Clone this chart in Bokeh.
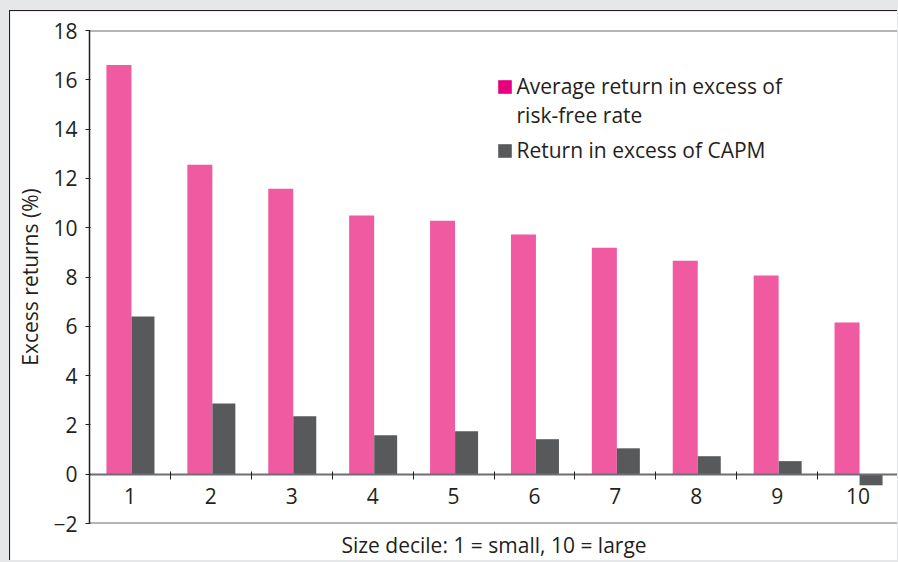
from bokeh.plotting import figure
from bokeh.models import (ColumnDataSource, FixedTicker, LinearAxis, Legend, LegendItem, Span)
from bokeh.transform import dodge
from bokeh.embed import file_html
from bokeh.resources import INLINE

# ---- data ----
deciles = [1, 2, 3, 4, 5, 6, 7, 8, 9, 10]
decile_labels = ["1", "2", "3", "4", "5", "6", "7", "8", "9", "10"]
avg_excess_rf = [16.6, 12.55, 11.58, 10.49, 10.28, 9.72, 9.19, 8.66, 8.06, 6.15]
excess_capm = [6.4, 2.87, 2.35, 1.58, 1.74, 1.42, 1.05, 0.73, 0.53, -0.45]
y_ticks = [-2, 0, 2, 4, 6, 8, 10, 12, 14, 16, 18]
y_min, y_max = -2, 18

FONT = "Open Sans"
FS = "21px"
TXT = "#231f20"
PINK = "#ef5aa0"
GREY = "#58595b"
PINK_LEG = "#e6007e"
FRAME = "#6d6e71"
NAN = float("nan")

src = ColumnDataSource(dict(decile=deciles, rf=avg_excess_rf, capm=excess_capm))

p = figure(width=888, height=550, x_range=(0.5, 10.5), y_range=(y_min, y_max),
           output_backend="svg", toolbar_location=None,
           min_border_left=79, min_border_right=0, min_border_top=19, min_border_bottom=37,
           border_fill_color="white", background_fill_color="white",
           outline_line_color=None,
           styles={"margin-left": "8.5px", "margin-top": "10px",
                   "border-left": "1.5px solid #231f20", "border-top": "1.5px solid #231f20"})
p.grid.visible = False

p.add_layout(Span(location=y_max, dimension="width", line_color=FRAME, line_width=2))
p.add_layout(Span(location=y_min, dimension="width", line_color=FRAME, line_width=2))

p.vbar(x=dodge("decile", -0.136, range=p.x_range), top="rf", bottom=0, width=0.309,
       source=src, fill_color=PINK, line_color=None)
p.vbar(x=dodge("decile", 0.161, range=p.x_range), top="capm", bottom=0, width=0.284,
       source=src, fill_color=GREY, line_color=None)

# legend swatch renderers (legend swatch colour differs from bars); no visible data
leg1 = p.vbar(x=[NAN], top=[NAN], width=0.3, fill_color=PINK_LEG, line_color=None)
leg1b = p.vbar(x=[NAN], top=[NAN], width=0.3, fill_alpha=0, line_color=None)
leg2 = p.vbar(x=[NAN], top=[NAN], width=0.3, fill_color=GREY, line_color=None)

# y axis
ya = p.yaxis[0]
ya.ticker = FixedTicker(ticks=y_ticks)
ya.major_label_overrides = {-2: "\u22122"}
ya.axis_label = "Excess returns (%)"
ya.axis_label_text_font = FONT
ya.axis_label_text_font_size = FS
ya.axis_label_text_font_style = "normal"
ya.axis_label_text_color = TXT
ya.axis_label_standoff = 6
ya.major_label_text_font = FONT
ya.major_label_text_font_size = FS
ya.major_label_text_color = TXT
ya.major_label_standoff = 8
ya.major_tick_out = 4
ya.major_tick_in = 1
ya.major_tick_line_color = TXT
ya.minor_tick_line_color = None
ya.axis_line_color = TXT
ya.axis_line_width = 1.5

# x axis at zero
xa = p.xaxis[0]
xa.fixed_location = 0
xa.ticker = FixedTicker(ticks=deciles, minor_ticks=[d + 0.5 for d in deciles])
xa.major_label_overrides = {d: s for d, s in zip(deciles, decile_labels)}
xa.major_tick_line_color = None
xa.major_tick_out = 0
xa.major_tick_in = 0
xa.minor_tick_line_color = TXT
xa.minor_tick_in = 3
xa.minor_tick_out = 5
xa.axis_line_color = FRAME
xa.axis_line_width = 2
xa.major_label_text_font = FONT
xa.major_label_text_font_size = FS
xa.major_label_text_color = TXT
xa.major_label_standoff = 9

# x axis title carrier (no ticks, no line) below the frame
xl = LinearAxis(ticker=FixedTicker(ticks=[]), axis_line_color=None,
                major_tick_line_color=None, minor_tick_line_color=None,
                major_tick_out=0, major_tick_in=0, minor_tick_out=0)
xl.axis_label = "Size decile: 1 = small, 10 = large"
xl.axis_label_text_font = FONT
xl.axis_label_text_font_size = FS
xl.axis_label_text_font_style = "normal"
xl.axis_label_text_color = TXT
xl.axis_label_standoff = 7
p.add_layout(xl, "below")

leg_style = dict(orientation="vertical", glyph_width=17, glyph_height=17, label_standoff=4,
                 padding=0, margin=0, border_line_color=None, background_fill_alpha=0,
                 label_text_font=FONT, label_text_font_size=FS, label_text_color=TXT)
legend_a = Legend(items=[
    LegendItem(label="Average return in excess of", renderers=[leg1]),
    LegendItem(label="risk-free rate", renderers=[leg1b]),
], location=(407, 394), spacing=1, **leg_style)
legend_b = Legend(items=[
    LegendItem(label="Return in excess of CAPM", renderers=[leg2]),
], location=(407, 359), spacing=0, **leg_style)
p.add_layout(legend_a, "center")
p.add_layout(legend_b, "center")

html = file_html(p, INLINE)
html = html.replace("</head>", "<style>html,body{background:#e6e7e8;margin:0;padding:0;overflow:hidden;}</style></head>", 1)
open("out.html", "w").write(html)
